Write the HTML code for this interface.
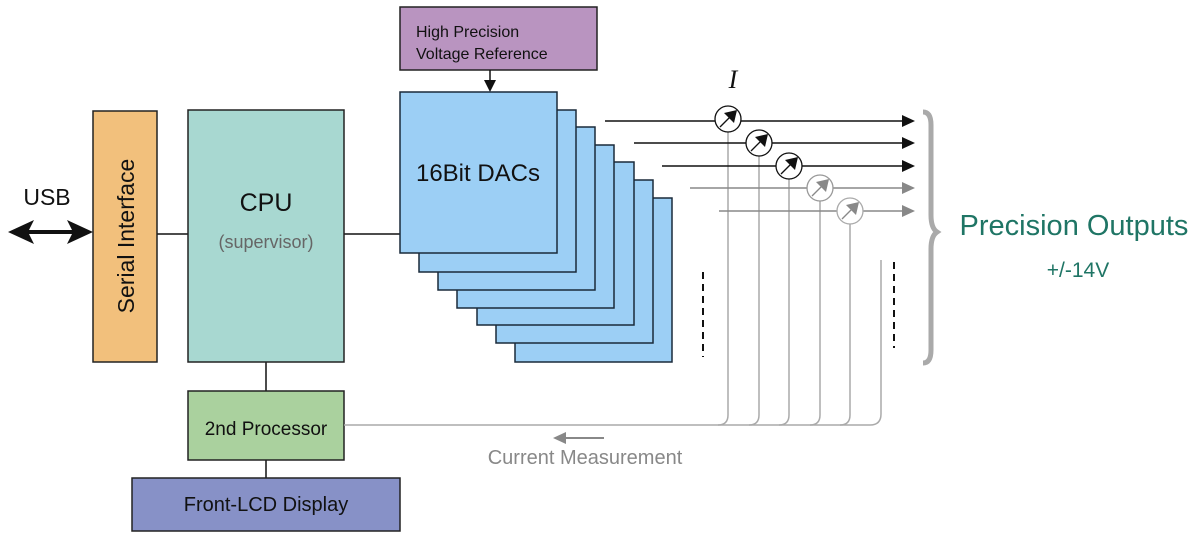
<!DOCTYPE html>
<html><head><meta charset="utf-8"><style>
html,body{margin:0;padding:0;background:#fff;}
svg{display:block;}
text{font-family:"Liberation Sans",sans-serif;}
</style></head><body>
<svg width="1196" height="536" viewBox="0 0 1196 536" xmlns="http://www.w3.org/2000/svg">

<!-- USB -->
<text x="47" y="205" font-size="23" text-anchor="middle" fill="#111">USB</text>
<line x1="25" y1="232" x2="76" y2="232" stroke="#111" stroke-width="4"/>
<polygon points="8,232 34,220 28,232 34,244" fill="#111"/>
<polygon points="93,232 67,220 73,232 67,244" fill="#111"/>

<!-- connectors -->
<line x1="157" y1="234" x2="188" y2="234" stroke="#111" stroke-width="1.5"/>
<line x1="344" y1="234" x2="400" y2="234" stroke="#111" stroke-width="1.5"/>
<line x1="266" y1="362" x2="266" y2="391" stroke="#111" stroke-width="1.5"/>
<line x1="266" y1="460" x2="266" y2="478" stroke="#111" stroke-width="1.5"/>

<!-- Serial -->
<rect x="93" y="111" width="64" height="251" fill="#f2c07c" stroke="#222" stroke-width="1.5"/>
<text transform="translate(134,236) rotate(-90)" font-size="23" text-anchor="middle" fill="#111">Serial Interface</text>

<!-- CPU -->
<rect x="188" y="110" width="156" height="252" fill="#a8d8d1" stroke="#222" stroke-width="1.5"/>
<text x="266" y="211" font-size="25" text-anchor="middle" fill="#111">CPU</text>
<text x="266" y="248" font-size="18" text-anchor="middle" fill="#666">(supervisor)</text>

<!-- 2nd processor -->
<rect x="188" y="391" width="156" height="69" fill="#aad19e" stroke="#222" stroke-width="1.5"/>
<text x="266" y="435" font-size="19" text-anchor="middle" fill="#111">2nd Processor</text>

<!-- LCD -->
<rect x="132" y="478" width="268" height="53" fill="#8791c7" stroke="#222" stroke-width="1.5"/>
<text x="266" y="511" font-size="20" text-anchor="middle" fill="#111">Front-LCD Display</text>

<!-- Voltage reference -->
<rect x="400" y="7" width="197" height="63" fill="#b994c0" stroke="#222" stroke-width="1.5"/>
<text x="416" y="37" font-size="16" fill="#111">High Precision</text>
<text x="416" y="59" font-size="16" fill="#111">Voltage Reference</text>
<line x1="490" y1="70" x2="490" y2="84" stroke="#111" stroke-width="1.5"/>
<polygon points="484,80 496,80 490,92" fill="#111"/>

<!-- DACs (back to front) -->
<g fill="#9ccff5" stroke="#1a2a3a" stroke-width="1.5">
<rect x="515" y="198" width="157" height="164"/>
<rect x="496" y="180" width="157" height="163"/>
<rect x="477" y="162" width="157" height="163"/>
<rect x="457" y="145" width="157" height="163"/>
<rect x="438" y="127" width="157" height="163"/>
<rect x="419" y="110" width="157" height="162"/>
<rect x="400" y="92" width="157" height="161"/>
</g>
<text x="478" y="181" font-size="24" text-anchor="middle" fill="#111">16Bit DACs</text>

<!-- Current measurement return lines -->
<g fill="none" stroke="#aaa" stroke-width="1.5">
<path d="M344,425 H870 Q881,425 881,414 V260"/>
<path d="M718,425 Q728,425 728,415 V132"/>
<path d="M749,425 Q759,425 759,415 V156"/>
<path d="M779,425 Q789,425 789,415 V179"/>
<path d="M810,425 Q820,425 820,415 V201"/>
<path d="M840,425 Q850,425 850,415 V224"/>
</g>

<!-- output lines -->
<g stroke-width="1.5">
<line x1="605" y1="121" x2="905" y2="121" stroke="#111"/>
<line x1="634" y1="143" x2="905" y2="143" stroke="#111"/>
<line x1="662" y1="166" x2="905" y2="166" stroke="#111"/>
<line x1="690" y1="188" x2="905" y2="188" stroke="#888"/>
<line x1="719" y1="211" x2="905" y2="211" stroke="#888"/>
</g>
<polygon points="902,115 915,121 902,127" fill="#111"/>
<polygon points="902,137 915,143 902,149" fill="#111"/>
<polygon points="902,160 915,166 902,172" fill="#111"/>
<polygon points="902,182 915,188 902,194" fill="#888"/>
<polygon points="902,205 915,211 902,217" fill="#888"/>

<!-- meters -->
<g stroke-width="1.3">
<circle cx="728" cy="119" r="13" fill="#fff" stroke="#111"/>
<line x1="720" y1="127" x2="732" y2="115" stroke="#111"/>
<polygon points="737,110 734,123 724,113" fill="#111"/>
<circle cx="759" cy="143" r="13" fill="#fff" stroke="#111"/>
<line x1="751" y1="151" x2="763" y2="139" stroke="#111"/>
<polygon points="768,134 765,147 755,137" fill="#111"/>
<circle cx="789" cy="166" r="13" fill="#fff" stroke="#111"/>
<line x1="781" y1="174" x2="793" y2="162" stroke="#111"/>
<polygon points="798,157 795,170 785,160" fill="#111"/>
<circle cx="820" cy="188" r="13" fill="#fff" stroke="#999"/>
<line x1="812" y1="196" x2="824" y2="184" stroke="#888"/>
<polygon points="829,179 826,192 816,182" fill="#888"/>
<circle cx="850" cy="211" r="13" fill="#fff" stroke="#aaa"/>
<line x1="842" y1="219" x2="854" y2="207" stroke="#888"/>
<polygon points="859,202 856,215 846,205" fill="#888"/>
</g>
<text x="733" y="88" font-size="26" font-style="italic" text-anchor="middle" fill="#111" style="font-family:'Liberation Serif',serif">I</text>

<!-- dashed -->
<line x1="703" y1="272" x2="703" y2="357" stroke="#111" stroke-width="2" stroke-dasharray="7,5"/>
<line x1="894" y1="262" x2="894" y2="348" stroke="#111" stroke-width="2" stroke-dasharray="7,5"/>

<!-- brace -->
<path d="M923,112 Q931,112 931,125 V215 Q931,228 937,232 Q931,236 931,249 V350 Q931,363 923,363" fill="none" stroke="#aaa" stroke-width="5"/>

<text x="1074" y="235" font-size="29" text-anchor="middle" fill="#1f7565">Precision Outputs</text>
<text x="1078" y="277" font-size="21" text-anchor="middle" fill="#1f7565">+/-14V</text>

<!-- current measurement arrow -->
<line x1="604" y1="438" x2="562" y2="438" stroke="#888" stroke-width="2"/>
<polygon points="553,438 566,432 566,444" fill="#888"/>
<text x="585" y="464" font-size="20" text-anchor="middle" fill="#888">Current Measurement</text>
</svg>
</body></html>
